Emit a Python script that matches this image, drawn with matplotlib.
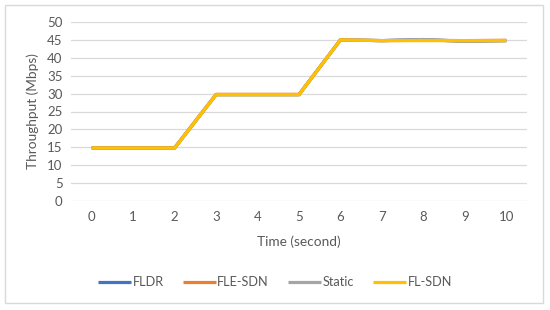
import matplotlib.pyplot as plt
from matplotlib.patches import Rectangle

plt.rcParams['font.family'] = ['Lato', 'DejaVu Sans']

time_s = [0, 1, 2, 3, 4, 5, 6, 7, 8, 9, 10]
fldr = [14.8, 14.8, 14.8, 29.7, 29.7, 29.7, 45.0, 44.8, 45.1, 44.6, 44.8]
fle_sdn = [14.9, 14.9, 14.9, 29.8, 29.8, 29.8, 45.0, 44.8, 44.9, 44.8, 44.9]
static = [14.8, 14.8, 14.8, 29.7, 29.7, 29.7, 45.0, 44.8, 45.1, 44.6, 44.8]
fl_sdn = [14.8, 14.8, 14.8, 29.7, 29.7, 29.7, 45.0, 44.8, 44.8, 44.8, 44.8]

series = [("FLDR", fldr, "#4472C4"),
          ("FLE-SDN", fle_sdn, "#ED7D31"),
          ("Static", static, "#A5A5A5"),
          ("FL-SDN", fl_sdn, "#FFC000")]

txt = "#595959"
fig = plt.figure(figsize=(5.5, 3.1), dpi=100)
fig.patches.append(Rectangle((5 / 550, 1 - 303 / 310), 538 / 550, 298 / 310,
                             transform=fig.transFigure, fill=False,
                             edgecolor="#D9D9D9", linewidth=1.0))
ax = fig.add_axes([71 / 550, 1 - 201 / 310, 456 / 550, 179 / 310])

for name, vals, col in series:
    ax.plot(time_s, vals, color=col, linewidth=2.3, label=name,
            solid_capstyle="butt")

ax.set_xlim(-0.5, 10.5)
ax.set_ylim(0, 50)
ax.set_yticks(range(0, 51, 5))
ax.set_xticks(time_s)
ax.grid(axis="y", color="#D9D9D9", linewidth=0.9)
ax.set_axisbelow(True)
for s in ax.spines.values():
    s.set_visible(False)
ax.tick_params(length=0, colors=txt, labelsize=9.5)
ax.tick_params(axis="x", pad=7)
ax.tick_params(axis="y", pad=6)
ax.set_xlabel("Time (second)", color=txt, fontsize=9.8, labelpad=9)
ax.set_ylabel("Throughput (Mbps)", color=txt, fontsize=9.8, labelpad=6)

fig.legend(loc="center", bbox_to_anchor=(275 / 550, 1 - 282 / 310), ncol=4,
           frameon=False, fontsize=9.2, labelcolor=txt, handlelength=2.6,
           handletextpad=0.1, columnspacing=1.5)

fig.savefig("out.png", dpi=100)
